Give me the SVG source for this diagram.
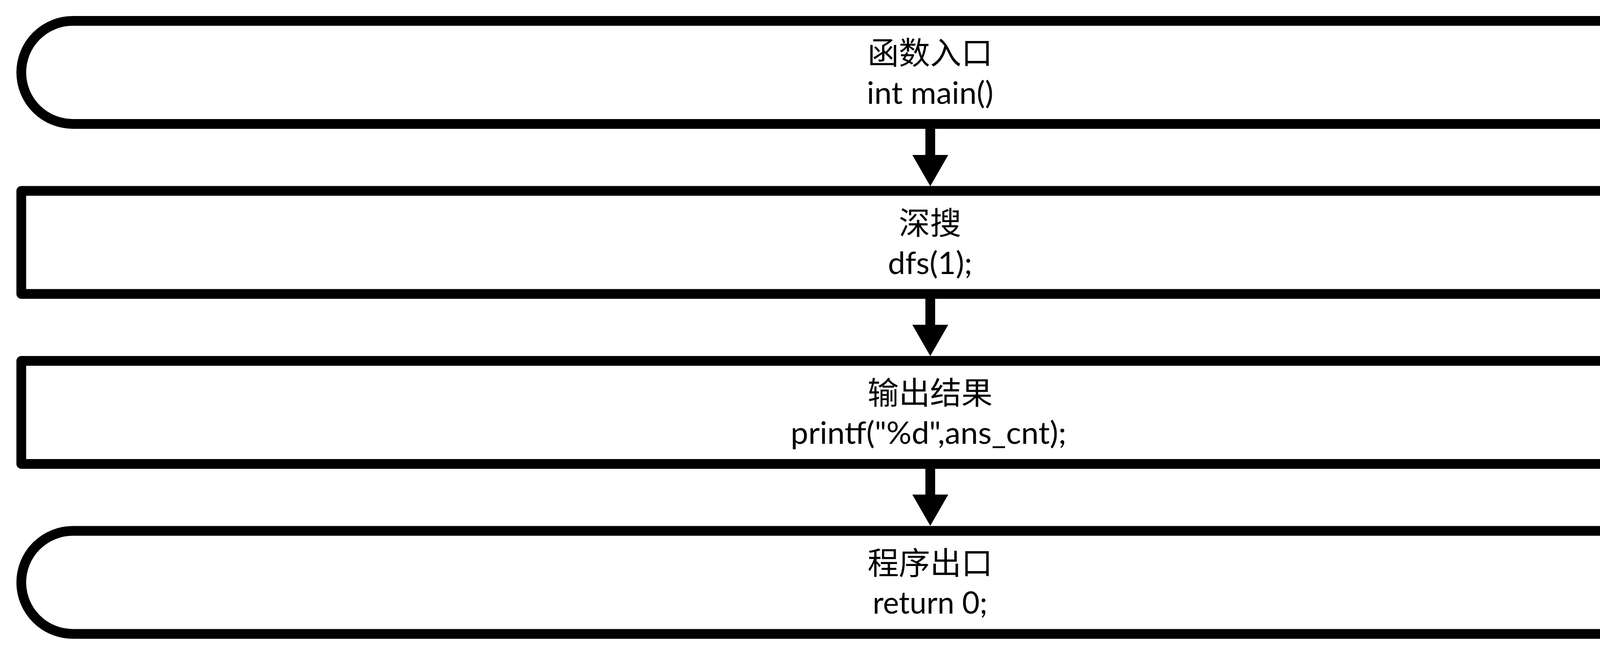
<svg xmlns="http://www.w3.org/2000/svg" xmlns:xlink="http://www.w3.org/1999/xlink" width="4762" height="1678" viewBox="0 0 4762 1678">
<style>
.shape{fill:#ffffff;stroke:#000000;stroke-width:25;stroke-linejoin:round}
.cjk{font-family:"Noto Sans CJK SC","Noto Sans",sans-serif;font-size:80px;fill:#000000;text-anchor:middle}
.code{font-family:Lato,"Liberation Sans",sans-serif;font-size:80px;fill:#000000;text-anchor:middle}
.shaft{stroke:#000000;stroke-width:25;fill:none}
.head{fill:#000000;stroke:none}
</style>
<defs>
<path id="arrowhead" d="M-46,-80 L46,-80 L0,0 Z"/>
</defs>
<rect width="4762" height="1678" fill="#ffffff"/>
<g id="connectors">
<path class="shaft" d="M2381.5,330 L2381.5,399"/>
<use xlink:href="#arrowhead" class="head" x="2381.5" y="477"/>
<path class="shaft" d="M2381.5,765 L2381.5,834"/>
<use xlink:href="#arrowhead" class="head" x="2381.5" y="912"/>
<path class="shaft" d="M2381.5,1200 L2381.5,1269"/>
<use xlink:href="#arrowhead" class="head" x="2381.5" y="1347"/>
</g>
<g id="node-entry">
<rect class="shape" x="54.5" y="53.5" width="4652.5" height="264" rx="132" ry="132"/>
<text class="cjk" x="2381" y="164">函数入口</text>
<text class="code" x="2381" y="266" textLength="324" lengthAdjust="spacingAndGlyphs">int main()</text>
</g>
<g id="node-dfs">
<rect class="shape" x="54.5" y="489" width="4652.5" height="264"/>
<text class="cjk" x="2381" y="599.5">深搜</text>
<text class="code" x="2381" y="701.5" textLength="216" lengthAdjust="spacingAndGlyphs">dfs(1);</text>
</g>
<g id="node-output">
<rect class="shape" x="54.5" y="924.5" width="4652.5" height="264"/>
<text class="cjk" x="2381" y="1035">输出结果</text>
<text class="code" x="2377" y="1137" textLength="706" lengthAdjust="spacingAndGlyphs">printf("%d",ans_cnt);</text>
</g>
<g id="node-exit">
<rect class="shape" x="54.5" y="1360" width="4652.5" height="264" rx="132" ry="132"/>
<text class="cjk" x="2381" y="1470.5">程序出口</text>
<text class="code" x="2381" y="1572" textLength="294" lengthAdjust="spacingAndGlyphs">return 0;</text>
</g>
</svg>
